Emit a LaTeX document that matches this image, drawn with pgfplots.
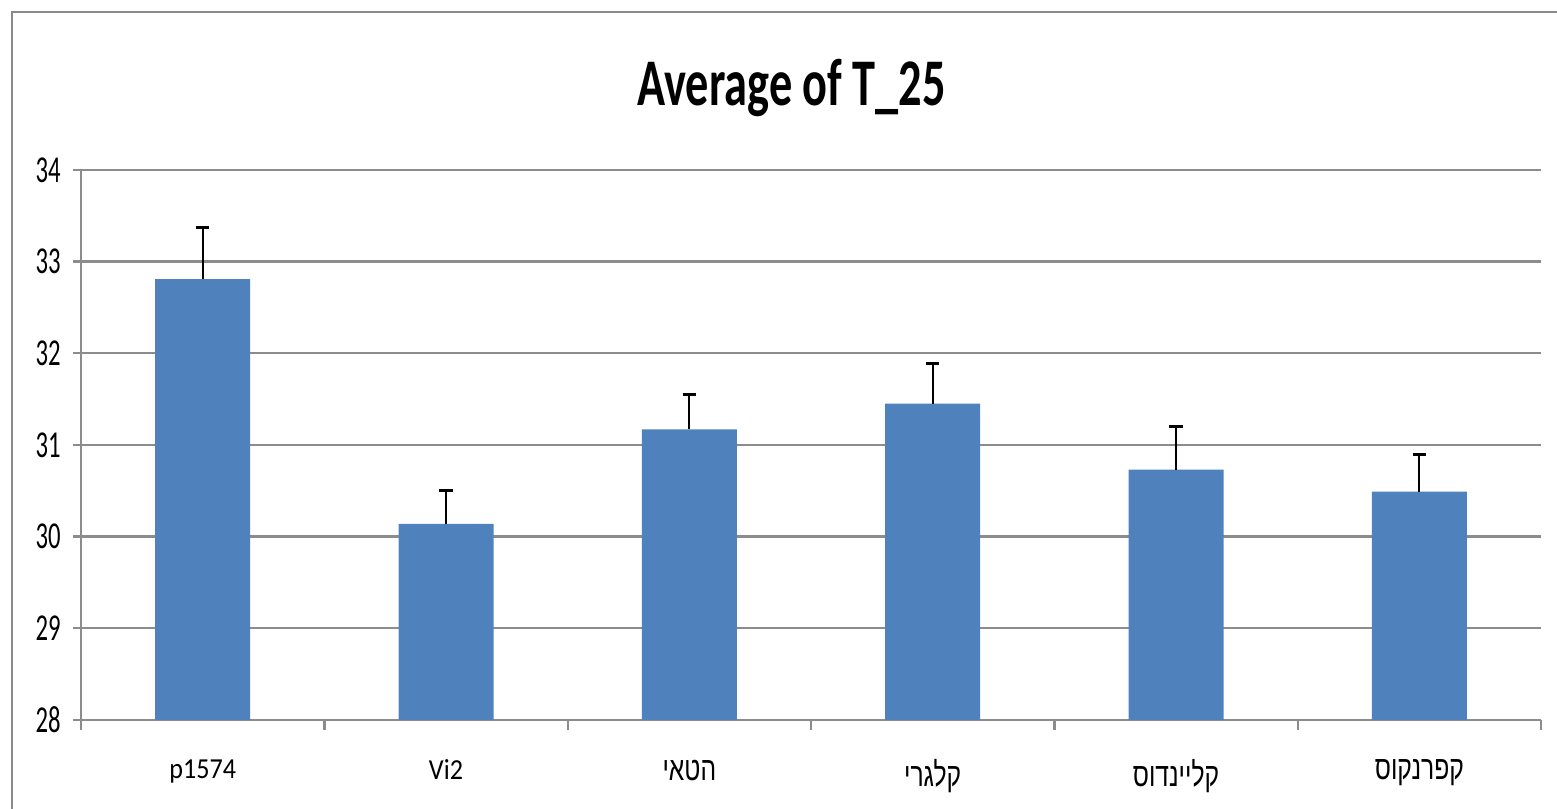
\documentclass[border=0pt]{standalone}
\usepackage{pgfplots}
\pgfplotsset{compat=1.18}
\usepackage{fontspec}
\setmainfont[FakeStretch=0.9]{Carlito}
\newfontfamily\titlefont[FakeStretch=0.695]{Carlito}
\newfontfamily\ytickfont[FakeStretch=0.65]{Carlito}
\newfontfamily\xtickfont[FakeStretch=0.9]{Carlito}
\newfontfamily\hebfont[Script=Hebrew,FakeStretch=0.74]{Liberation Sans}
\TeXXeTstate=1
\definecolor{barblue}{HTML}{4F81BD}
\definecolor{gridgray}{HTML}{8C8C8C}
\definecolor{framegray}{HTML}{8A8A8A}
\pgfplotstableread{
x y err
0 32.81 0.56
1 30.14 0.36
2 31.17 0.38
3 31.45 0.44
4 30.73 0.47
5 30.49 0.41
}\datatable
\begin{document}
\begin{tikzpicture}
\useasboundingbox (0,0) rectangle (467.1pt,242.7pt);
\draw[framegray, line width=0.8pt] (3.6pt,-10pt) -- (3.6pt,239.1pt) -- (480pt,239.1pt);
\node[font=\titlefont\bfseries\fontsize{20}{24}\selectfont] at (237.5pt,216.3pt) {Average of T\_25};
\begin{axis}[
  at={(24.3pt,26.7pt)}, anchor=south west,
  scale only axis, width=438pt, height=165pt,
  xmin=-0.5, xmax=5.5, ymin=28, ymax=34,
  ytick={28,29,...,34},
  xtick={0,...,5},
  xticklabels={p1574, Vi2, {\hebfont\fontsize{10}{12}\selectfont\beginR הטאי\endR}, {\hebfont\fontsize{10}{12}\selectfont\beginR קלגרי\endR}, {\hebfont\fontsize{10}{12}\selectfont\beginR קליינדוס\endR}, {\hebfont\fontsize{10}{12}\selectfont\beginR קפרנקוס\endR}},
  minor xtick={-0.5,0.5,...,5.5},
  axis x line*=bottom, axis y line*=left,
  axis line style={gridgray, line width=0.7pt},
  tick align=outside,
  major tick length=2.4pt,
  minor tick length=3pt,
  major x tick style={draw=none},
  minor x tick style={gridgray, line width=0.7pt},
  major y tick style={gridgray, line width=0.7pt},
  ymajorgrids,
  grid style={gridgray, line width=0.7pt},
  tick label style={text=black},
  /pgf/number format/assume math mode=true,
  yticklabel style={font=\ytickfont\fontsize{11.4}{13}\selectfont, xshift=-0.2pt},
  xticklabel style={font=\xtickfont\fontsize{8.7}{10}\selectfont, yshift=-6pt},
  ybar, bar width=28.5pt,
  clip=false,
]
\addplot[fill=barblue, draw=none,
  error bars/.cd, y dir=plus, y explicit,
  error bar style={black, line width=0.55pt},
  error mark options={black, line width=0.9pt, mark size=2pt, rotate=90}]
  table[x=x, y=y, y error=err] {\datatable};
\end{axis}
\end{tikzpicture}
\end{document}
